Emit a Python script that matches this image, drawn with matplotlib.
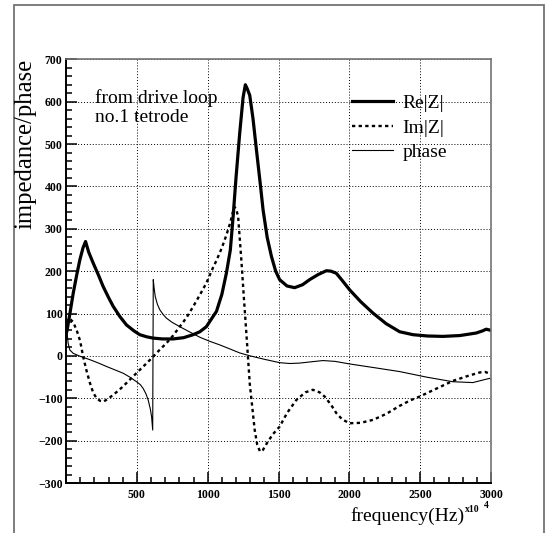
import matplotlib
matplotlib.use("Agg")
import matplotlib.pyplot as plt
from matplotlib.patches import Rectangle
from matplotlib.ticker import MultipleLocator

# -------------------------------------------------------------------------
# Data (frequency in units of 10^4 Hz)
# -------------------------------------------------------------------------
re_freq = [0, 8, 30, 51, 75, 98, 120, 138, 160, 192, 230, 262, 300, 333, 380, 427, 480,
           521, 570, 615, 680, 756, 830, 897, 945, 991, 1038, 1062, 1100, 1132, 1160, 1180,
           1200, 1226, 1250, 1266, 1280, 1297, 1320, 1344, 1370, 1391, 1420, 1450, 1480,
           1508, 1560, 1614, 1670, 1720, 1780, 1838, 1870, 1908, 1950, 2002, 2080, 2167,
           2260, 2355, 2450, 2550, 2660, 2780, 2896, 2940, 2966, 2991, 3000]
re_z = [50, 61, 105, 148, 190, 227, 255, 270, 245, 219, 190, 164, 138, 117, 93, 73, 59,
        50, 45, 42, 40, 40, 43, 50, 57, 69, 93, 105, 145, 195, 250, 330,
        420, 525, 610, 640, 630, 615, 560, 487, 410, 345, 280, 235, 200,
        180, 165, 161, 168, 180, 192, 201, 200, 195, 178, 156, 128, 101,
        76, 57, 50, 47, 46, 48, 54, 59, 63, 61, 60]

im_freq = [0, 23, 50, 75, 100, 121, 145, 169, 192, 216, 240, 262, 290, 333, 380, 427, 475,
           521, 570, 615, 660, 709, 756, 803, 850, 897, 945, 991, 1040, 1062, 1100, 1132,
           1160, 1187, 1200, 1215, 1238, 1255, 1273, 1297, 1332, 1350, 1370, 1390, 1420,
           1460, 1508, 1560, 1626, 1690, 1743, 1790, 1826, 1870, 1908, 1950, 2002, 2080,
           2167, 2260, 2355, 2430, 2496, 2610, 2731, 2830, 2921, 2960, 2991, 3000]
im_z = [80, 89, 80, 61, 35, -2, -35, -64, -87, -100, -106, -108, -103, -92, -79, -64, -48,
        -33, -17, -2, 14, 30, 48, 69, 90, 116, 144, 172, 210, 225, 255, 285,
        315, 352, 348, 329, 225, 140, 54, -65, -175, -210, -226, -222, -205,
        -185, -167, -135, -104, -86, -80, -86, -96, -115, -135, -150, -159, -158,
        -151, -137, -118, -105, -96, -78, -59, -48, -39, -38, -42, -45]

ph_freq = [0, 8, 15, 27, 51, 100, 169, 230, 286, 345, 404, 450, 498, 525, 545, 565, 580,
           595, 604, 612, 616, 622, 630, 645, 662, 685, 709, 750, 803, 870, 945, 1010,
           1085, 1160, 1226, 1300, 1400, 1508, 1580, 1649, 1730, 1814, 1900, 2002, 2180,
           2355, 2543, 2731, 2872, 2942, 2991, 3000]
phase = [60, 53, 30, 14, 6, -1, -9, -17, -25, -33, -41, -50, -61, -68, -77, -90, -104,
         -125, -143, -175, 180, 160, 140, 122, 109, 98, 89, 79, 69, 57, 44, 35,
         26, 16, 7, 0, -8, -16, -18, -17, -14, -11, -13, -19, -28,
         -37, -50, -61, -63, -57, -53, -55]

labels = ["Re|Z|", "Im|Z|", "phase"]

# -------------------------------------------------------------------------
# Figure
# -------------------------------------------------------------------------
W, H = 547, 533
fig = plt.figure(figsize=(W / 100, H / 100), dpi=100)
serif = "Liberation Serif"

# grey canvas border
fig.add_artist(Rectangle((13.5 / W, -0.1), (543.7 - 13.5) / W, 1.1 - 5 / H,
                         transform=fig.transFigure, fill=False,
                         edgecolor="0.45", linewidth=1.3))

ax = fig.add_axes([66 / W, 1 - 483 / H, (491 - 66) / W, (483 - 59.3) / H])

ax.plot(re_freq, re_z, color="black", linewidth=2.3, label=labels[0])
ax.plot(im_freq, im_z, color="black", linewidth=1.7, linestyle=(0, (1.4, 1.4)),
        label=labels[1])
ax.plot(ph_freq, phase, color="black", linewidth=0.8, label=labels[2])

ax.set_xlim(0, 3000)
ax.set_ylim(-300, 700)
ax.xaxis.set_minor_locator(MultipleLocator(100))
ax.yaxis.set_minor_locator(MultipleLocator(20))
ax.set_xticks([500, 1000, 1500, 2000, 2500, 3000])
ax.set_yticks(range(-300, 701, 100))

ax.grid(True, which="major", color="black", linestyle=(0, (1, 2)), linewidth=0.7)
ax.tick_params(which="both", direction="in", top=False, right=False, width=1.1)
ax.tick_params(which="major", length=8)
ax.tick_params(axis="y", which="major", pad=2.5)
ax.tick_params(axis="x", which="major", pad=4.5)
ax.tick_params(which="minor", length=4)
for lab in ax.get_xticklabels() + ax.get_yticklabels():
    lab.set_fontfamily(serif)
    lab.set_fontweight("bold")
    lab.set_fontsize(8.5)

for s in ["left", "bottom"]:
    ax.spines[s].set_linewidth(1.4)
for s in ["top", "right"]:
    ax.spines[s].set_color("0.45")
    ax.spines[s].set_linewidth(1.2)

leg = ax.legend(loc="upper left", bbox_to_anchor=(0.655, 0.935), frameon=False,
                prop={"family": serif, "size": 14}, handlelength=2.1,
                handletextpad=0.5, labelspacing=0.35, borderaxespad=0)

ax.text(0.068, 0.93, "from drive loop\nno.1 tetrode", transform=ax.transAxes,
        family=serif, fontsize=14, va="top", ha="left", linespacing=1.2)

fig.text(25 / W, 1 - 59 / H, "impedance/phase", rotation=90, family=serif,
         fontsize=17.7, ha="center", va="top")
fig.text(350 / W, 1 - 521 / H, "frequency(Hz)", family=serif, fontsize=14,
         ha="left", va="baseline")
fig.text(465 / W, 1 - 512 / H, "x10", family=serif, fontsize=7, fontweight="bold",
         ha="left", va="baseline")
fig.text(484 / W, 1 - 508 / H, "4", family=serif, fontsize=7, fontweight="bold",
         ha="left", va="baseline")

fig.savefig("out.png", dpi=100)
